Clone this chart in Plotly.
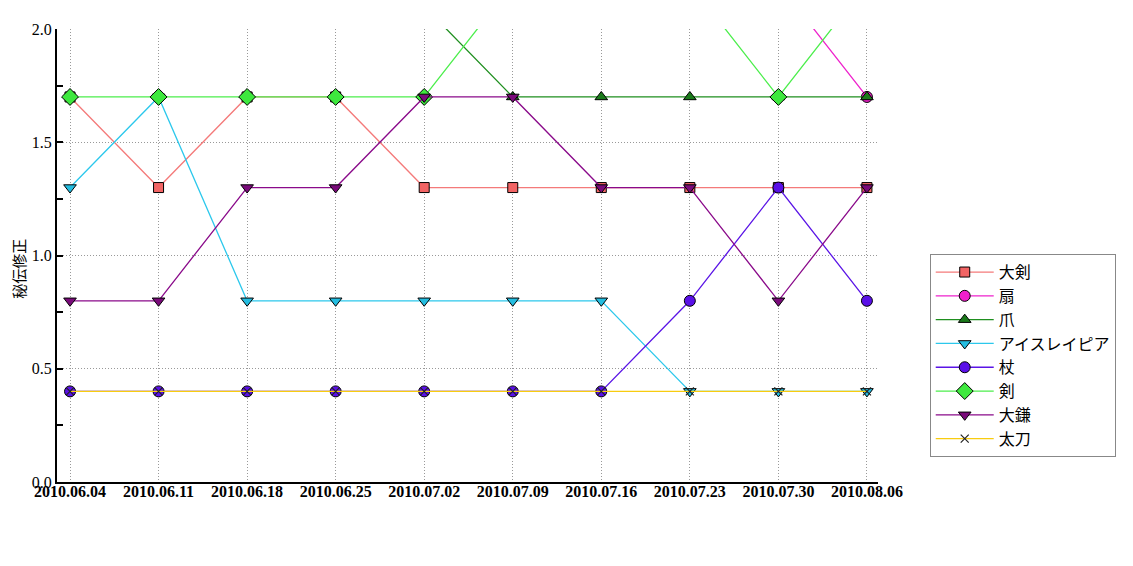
import plotly.graph_objects as go

dates = ["2010.06.04", "2010.06.11", "2010.06.18", "2010.06.25", "2010.07.02",
         "2010.07.09", "2010.07.16", "2010.07.23", "2010.07.30", "2010.08.06"]

taiken = [1.7, 1.3, 1.7, 1.7, 1.3, 1.3, 1.3, 1.3, 1.3, 1.3]
ougi = [2.2, 2.2, 2.2, 2.2, 2.2, 2.2, 2.2, 2.2, 2.2, 1.7]
tsume = [2.1, 2.1, 2.1, 2.1, 2.1, 1.7, 1.7, 1.7, 1.7, 1.7]
rapier = [1.3, 1.7, 0.8, 0.8, 0.8, 0.8, 0.8, 0.4, 0.4, 0.4]
tsue = [0.4, 0.4, 0.4, 0.4, 0.4, 0.4, 0.4, 0.8, 1.3, 0.8]
ken = [1.7, 1.7, 1.7, 1.7, 1.7, 2.2, 2.2, 2.2, 1.7, 2.2]
ogama = [0.8, 0.8, 1.3, 1.3, 1.7, 1.7, 1.3, 1.3, 0.8, 1.3]
tachi = [0.4, 0.4, 0.4, 0.4, 0.4, 0.4, 0.4, 0.4, 0.4, 0.4]

ytick_vals = [0, 0.5, 1.0, 1.5, 2.0]
ytick_text = ["0.0", "0.5", "1.0", "1.5", "2.0"]

series = [
    ("大剣", taiken, "#f47a7a", "#f26464", "square", 10),
    ("扇", ougi, "#ee22cc", "#f020cc", "circle", 11),
    ("爪", tsume, "#1f8f1f", "#1a7a1a", "triangle-up", 11),
    ("アイスレイピア", rapier, "#2cc8ec", "#24bde0", "triangle-down", 11),
    ("杖", tsue, "#5a14e6", "#5a10e8", "circle", 11),
    ("剣", ken, "#4cee4c", "#3ee83e", "diamond", 13),
    ("大鎌", ogama, "#8a0a8a", "#7a0a7a", "triangle-down", 11),
    ("太刀", tachi, "#f8cc10", "#f8cc10", "x-thin", 8),
]

fig = go.Figure()
for name, vals, lc, mc, sym, sz in series:
    if sym == "x-thin":
        marker = dict(symbol=sym, size=sz, color="#222222",
                      line=dict(color="#222222", width=1.2))
    else:
        marker = dict(symbol=sym, size=sz, color=mc,
                      line=dict(color="black", width=1))
    fig.add_trace(go.Scatter(
        x=dates, y=vals, name=name, mode="lines+markers",
        line=dict(color=lc, width=1.3), marker=marker,
    ))

serif = "Liberation Serif, Noto Sans CJK JP"

fig.update_layout(
    width=1125, height=558,
    margin=dict(l=49, r=255, t=21, b=84),
    paper_bgcolor="white", plot_bgcolor="white",
    font=dict(family=serif, size=15, color="black"),
    showlegend=True,
    legend=dict(
        x=1.063, y=0.503, xanchor="left", yanchor="top",
        bordercolor="#888888", borderwidth=1, bgcolor="white",
        font=dict(family="Noto Sans CJK JP", size=16, color="black"),
        tracegroupgap=0, itemwidth=58,
    ),
    xaxis=dict(
        type="category", range=[-0.147, 9.125],
        showline=True, linecolor="black", linewidth=2,
        showgrid=True, gridcolor="#999999", griddash="1px,2px", gridwidth=1,
        ticks="", zeroline=False,
        tickfont=dict(family="Liberation Serif", size=16, color="black", weight="bold"),
        ticklabelstandoff=-6,
    ),
    yaxis=dict(
        range=[0, 2.0], tickvals=ytick_vals, ticktext=ytick_text,
        showline=True, linecolor="black", linewidth=2,
        showgrid=True, gridcolor="#999999", griddash="1px,2px", gridwidth=1,
        ticks="inside", ticklen=6, tickcolor="black", tickwidth=1.5,
        minor=dict(dtick=0.25, tick0=0, ticks="inside", ticklen=6,
                   tickcolor="black", tickwidth=1.5, showgrid=False),
        zeroline=False,
        tickfont=dict(family="Liberation Serif", size=16, color="black"),
    ),
    annotations=[dict(
        text="秘伝修正", textangle=-90, showarrow=False,
        xref="paper", yref="paper", x=-0.048, y=0.47,
        xanchor="center", yanchor="middle",
        font=dict(family="Noto Sans CJK JP", size=15, color="black"),
    )],
)

fig.write_html("out.html")
